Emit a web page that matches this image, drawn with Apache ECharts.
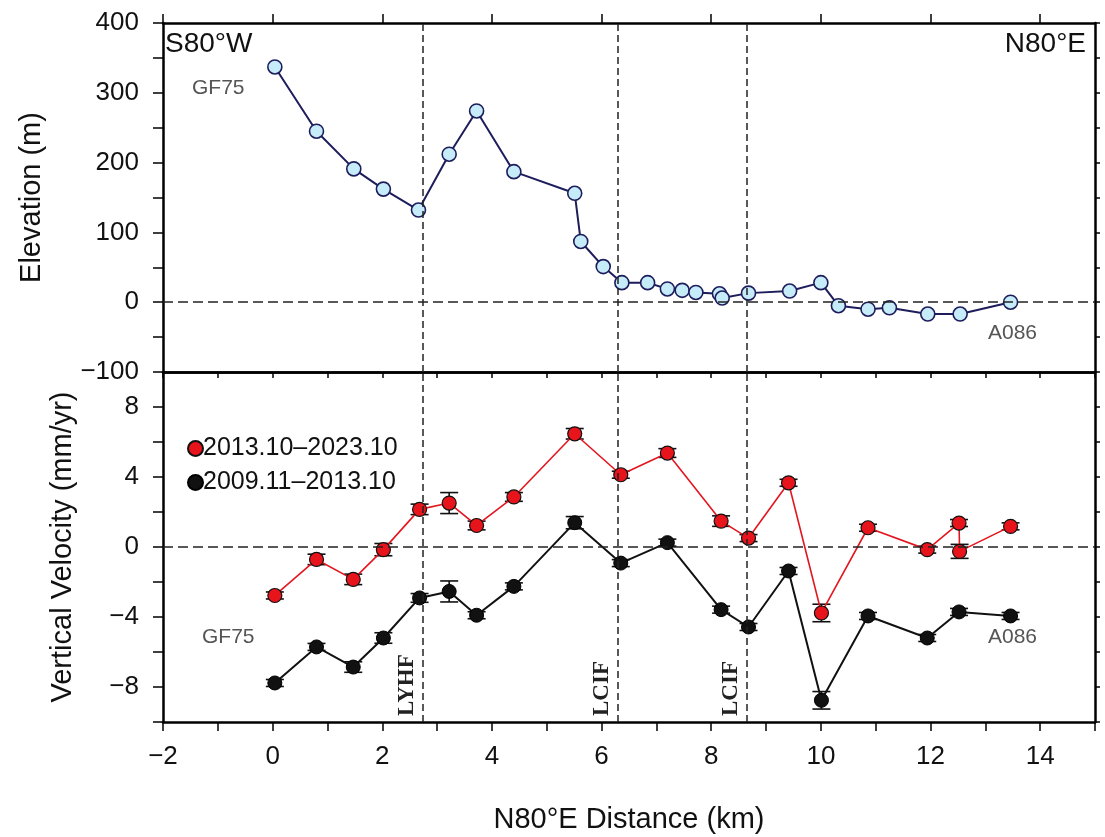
<!DOCTYPE html>
<html>
<head>
<meta charset="utf-8">
<script src="https://cdn.jsdelivr.net/npm/echarts@6/dist/echarts.min.js"></script>
<style>
  html, body { margin: 0; padding: 0; background: #fff; }
</style>
</head>
<body>
<div id="main" style="width: 1105px;height:837px;"></div>
<script>
// elevation profile (top panel)
var elevDist = [0.04, 0.80, 1.48, 2.02, 2.66, 3.22, 3.72, 4.40, 5.51, 5.62, 6.03, 6.37, 6.84, 7.20, 7.47, 7.72, 8.15, 8.20, 8.68, 9.43, 10.00, 10.32, 10.86, 11.25, 11.95, 12.54, 13.46];
var elevation = [337, 245, 191, 162, 132, 212, 274, 187, 156, 87, 51, 28, 28, 19, 17, 14, 12, 6, 13, 16, 28, -5, -10, -8, -17, -17, 0];

// vertical velocity (bottom panel)
var redName = '2013.10–2023.10';
var redDist = [0.04, 0.80, 1.47, 2.02, 2.68, 3.22, 3.72, 4.40, 5.51, 6.35, 7.20, 8.18, 8.68, 9.41, 10.01, 10.86, 11.94, 12.52, 12.53, 13.46];
var redVel  = [-2.77, -0.71, -1.85, -0.15, 2.15, 2.51, 1.23, 2.86, 6.47, 4.13, 5.37, 1.48, 0.51, 3.67, -3.77, 1.10, -0.15, 1.37, -0.25, 1.18];
var redErr  = [0.2, 0.3, 0.3, 0.35, 0.3, 0.6, 0.25, 0.25, 0.3, 0.2, 0.25, 0.3, 0.2, 0.2, 0.5, 0.2, 0.2, 0.2, 0.4, 0.2];

var blackName = '2009.11–2013.10';
var blackDist = [0.04, 0.80, 1.47, 2.02, 2.68, 3.22, 3.72, 4.40, 5.51, 6.35, 7.20, 8.18, 8.68, 9.41, 10.01, 10.86, 11.94, 12.52, 13.46];
var blackVel  = [-7.77, -5.71, -6.86, -5.20, -2.91, -2.54, -3.90, -2.25, 1.39, -0.92, 0.25, -3.58, -4.57, -1.37, -8.76, -3.94, -5.20, -3.71, -3.94];
var blackErr  = [0.2, 0.2, 0.3, 0.3, 0.25, 0.6, 0.2, 0.2, 0.35, 0.2, 0.2, 0.2, 0.2, 0.2, 0.5, 0.2, 0.2, 0.2, 0.2];

// faults
var faultNames = ['LYHF', 'LCIF', 'LCIF'];
var faultDist = [2.73, 6.30, 8.64];

// tick labels
var xTicks = [-2, 0, 2, 4, 6, 8, 10, 12, 14];
var elevTicks = [-100, 0, 100, 200, 300, 400];
var velTicks = [-8, -4, 0, 4, 8];

var FONT = 'Liberation Sans, Arial, sans-serif';

function pairs(xs, ys) {
    return xs.map(function (x, i) { return [x, ys[i]]; });
}
function errRows(xs, ys, es) {
    return xs.map(function (x, i) { return [x, ys[i] - es[i], ys[i] + es[i]]; });
}
function minus(v) {
    return String(v).replace('-', '\u2212');
}

function errorBars(params, api) {
    var x = api.value(0);
    var lo = api.coord([x, api.value(1)]);
    var hi = api.coord([x, api.value(2)]);
    var w = 9;
    var st = { stroke: '#111', lineWidth: 1.6 };
    return {
        type: 'group',
        children: [
            { type: 'line', shape: { x1: lo[0], y1: lo[1], x2: hi[0], y2: hi[1] }, style: st },
            { type: 'line', shape: { x1: lo[0] - w, y1: lo[1], x2: lo[0] + w, y2: lo[1] }, style: st },
            { type: 'line', shape: { x1: hi[0] - w, y1: hi[1], x2: hi[0] + w, y2: hi[1] }, style: st }
        ]
    };
}

var axisLine = { show: true, onZero: false, lineStyle: { color: '#000', width: 2.5 } };
var tickStyle = { color: '#000', width: 1.5 };
var dashH = { type: [10, 5], color: '#222', width: 1.5 };
var dashV = { type: [7, 4], color: '#222', width: 1.5 };

var myChart = echarts.init(document.getElementById('main'));

myChart.setOption({
    backgroundColor: '#fff',
    animation: false,
    textStyle: { fontFamily: FONT },
    grid: [
        { left: 163, top: 23, width: 932, height: 349 },
        { left: 163, top: 372, width: 932, height: 350 }
    ],
    legend: {
        data: [redName, blackName],
        orient: 'vertical',
        left: 182,
        top: 431,
        itemWidth: 15,
        itemHeight: 15,
        itemGap: 9,
        icon: 'circle',
        textStyle: { fontSize: 25, color: '#111', fontFamily: FONT, padding: [0, 0, 0, -5] }
    },
    xAxis: [
        { gridIndex: 0, type: 'value', position: 'bottom', min: -2, max: 15, interval: 1,
          axisLine: axisLine, axisTick: { show: false },
          axisLabel: { show: false }, splitLine: { show: false } },
        { gridIndex: 0, type: 'value', position: 'top', min: -2, max: 15, interval: 1,
          axisLine: axisLine, axisTick: { show: true, length: 9, lineStyle: tickStyle, customValues: xTicks },
          axisLabel: { show: false }, splitLine: { show: false } },
        { gridIndex: 1, type: 'value', position: 'bottom', min: -2, max: 15, interval: 1,
          axisLine: axisLine, axisTick: { show: true, length: 9, lineStyle: tickStyle },
          axisLabel: { fontSize: 26, color: '#111', margin: 22, customValues: xTicks, formatter: minus },
          splitLine: { show: false },
          name: 'N80°E Distance (km)', nameLocation: 'middle', nameGap: 83,
          nameTextStyle: { fontSize: 29, color: '#111' } },
        { gridIndex: 1, type: 'value', position: 'top', min: -2, max: 15, interval: 1,
          axisLine: axisLine, axisTick: { show: true, inside: true, length: 6, lineStyle: tickStyle },
          axisLabel: { show: false }, splitLine: { show: false } }
    ],
    yAxis: [
        { gridIndex: 0, type: 'value', position: 'left', min: -100, max: 400, interval: 50,
          axisLine: axisLine, axisTick: { show: true, length: 10, lineStyle: tickStyle },
          axisLabel: { fontSize: 26, color: '#111', margin: 24, customValues: elevTicks, formatter: minus },
          splitLine: { show: false },
          name: 'Elevation (m)', nameLocation: 'middle', nameGap: 117,
          nameTextStyle: { fontSize: 29, color: '#111' } },
        { gridIndex: 0, type: 'value', position: 'right', min: -100, max: 400, interval: 50,
          axisLine: axisLine, axisTick: { show: true, length: 5, lineStyle: tickStyle },
          axisLabel: { show: false }, splitLine: { show: false } },
        { gridIndex: 1, type: 'value', position: 'left', min: -10, max: 10, interval: 2,
          axisLine: axisLine, axisTick: { show: true, length: 10, lineStyle: tickStyle },
          axisLabel: { fontSize: 26, color: '#111', margin: 24, customValues: velTicks, formatter: minus },
          splitLine: { show: false },
          name: 'Vertical Velocity (mm/yr)', nameLocation: 'middle', nameGap: 86,
          nameTextStyle: { fontSize: 29, color: '#111' } },
        { gridIndex: 1, type: 'value', position: 'right', min: -10, max: 10, interval: 2,
          axisLine: axisLine, axisTick: { show: true, length: 5, lineStyle: tickStyle },
          axisLabel: { show: false }, splitLine: { show: false } }
    ],
    series: [
        {
            name: 'Elevation',
            type: 'line',
            xAxisIndex: 0,
            yAxisIndex: 0,
            data: pairs(elevDist, elevation),
            symbol: 'circle',
            symbolSize: 14,
            lineStyle: { color: '#1d1d5c', width: 2 },
            itemStyle: { color: '#c6ecf9', borderColor: '#1d1d5c', borderWidth: 1.6 },
            z: 3,
            markLine: {
                silent: true,
                symbol: 'none',
                label: { show: false },
                data: [{ yAxis: 0, lineStyle: dashH }].concat(faultDist.map(function (d) {
                    return { xAxis: d, lineStyle: dashV };
                }))
            }
        },
        {
            name: 'redErr',
            type: 'custom',
            xAxisIndex: 2,
            yAxisIndex: 2,
            renderItem: errorBars,
            data: errRows(redDist, redVel, redErr),
            z: 2
        },
        {
            name: 'blackErr',
            type: 'custom',
            xAxisIndex: 2,
            yAxisIndex: 2,
            renderItem: errorBars,
            data: errRows(blackDist, blackVel, blackErr),
            z: 2
        },
        {
            name: blackName,
            type: 'line',
            xAxisIndex: 2,
            yAxisIndex: 2,
            data: pairs(blackDist, blackVel),
            symbol: 'circle',
            symbolSize: 14,
            lineStyle: { color: '#111', width: 2 },
            itemStyle: { color: '#111', borderColor: '#000', borderWidth: 1 },
            z: 3,
            markLine: {
                silent: true,
                symbol: 'none',
                data: [{ yAxis: 0, lineStyle: dashH, label: { show: false } }].concat(faultDist.map(function (d, i) {
                    return [
                        { coord: [d, -10], name: faultNames[i], lineStyle: dashV },
                        { coord: [d, 10] }
                    ];
                })),
                label: {
                    show: true,
                    position: 'insideStartTop',
                    formatter: '{b}',
                    distance: [6, 4],
                    fontFamily: 'Liberation Serif, Times New Roman, serif',
                    fontWeight: 'bold',
                    fontSize: 23,
                    color: '#222'
                }
            }
        },
        {
            name: redName,
            type: 'line',
            xAxisIndex: 2,
            yAxisIndex: 2,
            data: pairs(redDist, redVel),
            symbol: 'circle',
            symbolSize: 14,
            lineStyle: { color: '#e3161f', width: 1.6 },
            itemStyle: { color: '#e8141c', borderColor: '#111', borderWidth: 1.2 },
            z: 4
        }
    ],
    graphic: [
        { type: 'text', left: 165, top: 30, style: { text: 'S80°W', font: '28px ' + FONT, fill: '#111' } },
        { type: 'text', right: 19, top: 30, style: { text: 'N80°E', font: '28px ' + FONT, fill: '#111' } },
        { type: 'text', left: 192, top: 78, style: { text: 'GF75', font: '21px ' + FONT, fill: '#555' } },
        { type: 'text', left: 988, top: 323, style: { text: 'A086', font: '21px ' + FONT, fill: '#555' } },
        { type: 'text', left: 202, top: 627, style: { text: 'GF75', font: '21px ' + FONT, fill: '#555' } },
        { type: 'text', left: 988, top: 627, style: { text: 'A086', font: '21px ' + FONT, fill: '#555' } }
    ]
});
</script>
</body>
</html>
